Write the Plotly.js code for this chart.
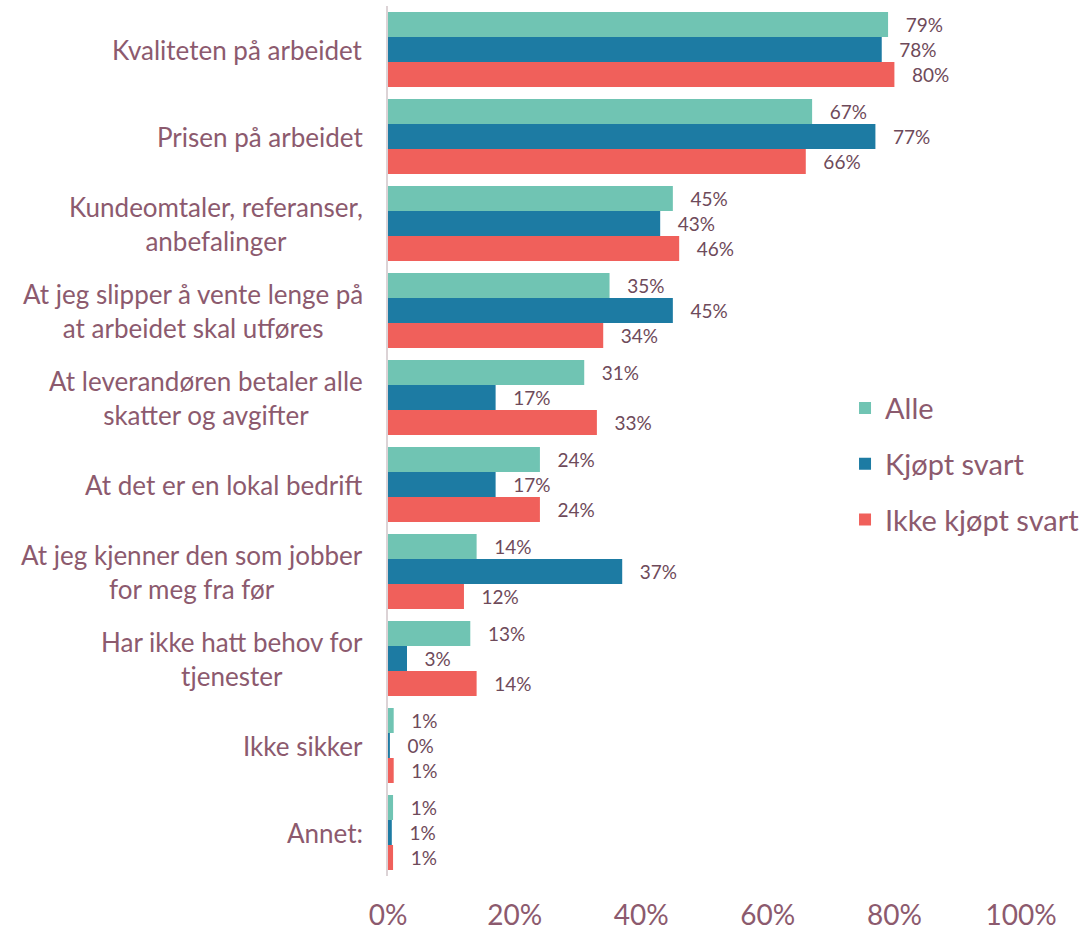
<!DOCTYPE html>
<html>
<head>
<meta charset="utf-8">
<script src="https://cdn.plot.ly/plotly-3.0.1.min.js"></script>
<style>
  html, body { margin: 0; padding: 0; background: #ffffff; }
  #chart { width: 1087px; height: 930px; }
</style>
</head>
<body>
<div id="chart"></div>
<script>
// Categories (top to bottom) and their display labels
const categories = [
  "Kvaliteten på arbeidet",
  "Prisen på arbeidet",
  "Kundeomtaler, referanser, anbefalinger",
  "At jeg slipper å vente lenge på at arbeidet skal utføres",
  "At leverandøren betaler alle skatter og avgifter",
  "At det er en lokal bedrift",
  "At jeg kjenner den som jobber for meg fra før",
  "Har ikke hatt behov for tjenester",
  "Ikke sikker",
  "Annet:"
];
const categoryLabels = [
  "Kvaliteten på arbeidet",
  "Prisen på arbeidet",
  "Kundeomtaler, referanser,<br>anbefalinger",
  "At jeg slipper å vente lenge på<br>at arbeidet skal utføres",
  "At leverandøren betaler alle<br>skatter og avgifter",
  "At det er en lokal bedrift",
  "At jeg kjenner den som jobber<br>for meg fra før",
  "Har ikke hatt behov for<br>tjenester",
  "Ikke sikker",
  "Annet:"
];

// Series values (percent)
const seriesNames = ["Alle", "Kjøpt svart", "Ikke kjøpt svart"];
const alle       = [79, 67, 45, 35, 31, 24, 14, 13, 0.9, 0.8];
const kjoptSvart = [78, 77, 43, 45, 17, 17, 37, 3, 0.3, 0.6];
const ikkeKjopt  = [80, 66, 46, 34, 33, 24, 12, 14, 0.9, 0.8];

// X tick values
const xTicks = [0, 20, 40, 60, 80, 100];

const colors = ["#70C4B3", "#1D7BA3", "#F0605B"];
const labelColor = "#8C5A6E";
const valueColor = "#6E4A5A";
const fontFamily = "Lato, 'Open Sans', sans-serif";

const seriesValues = [alle, kjoptSvart, ikkeKjopt];
const nb = "\u00a0\u00a0\u00a0";

const traces = seriesValues.map((vals, i) => ({
  type: "bar",
  orientation: "h",
  name: seriesNames[i],
  legendgroup: "g" + i,
  x: vals,
  y: categories,
  marker: { color: colors[i] },
  texttemplate: nb + "%{x:.0f}%",
  textposition: "outside",
  textfont: { family: fontFamily, size: 19, color: valueColor },
  constraintext: "none",
  cliponaxis: false,
  hoverinfo: "x+y+name"
}));

const annotations = categories.map((c, i) => ({
  xref: "paper",
  yref: "y",
  x: -0.036,
  y: c,
  xanchor: "right",
  yanchor: "middle",
  align: "center",
  text: categoryLabels[i],
  showarrow: false,
  font: { family: fontFamily, size: 26, color: labelColor }
}));

const layout = {
  width: 1087,
  height: 930,
  margin: { l: 388, r: 66, t: 6, b: 54, autoexpand: false },
  paper_bgcolor: "#ffffff",
  plot_bgcolor: "#ffffff",
  barmode: "group",
  bargap: 0.138,
  bargroupgap: 0,
  font: { family: fontFamily, color: labelColor },
  xaxis: {
    range: [0, 100],
    tickvals: xTicks,
    ticktext: xTicks.map(v => v + "%"),
    showgrid: false,
    zeroline: false,
    showline: false,
    ticks: "",
    ticklabelstandoff: 20,
    tickfont: { family: fontFamily, size: 28, color: labelColor },
    fixedrange: true
  },
  yaxis: {
    type: "category",
    autorange: "reversed",
    showticklabels: false,
    showgrid: false,
    zeroline: false,
    showline: true,
    linecolor: "#DCD3D6",
    linewidth: 2,
    ticks: "",
    fixedrange: true
  },
  showlegend: true,
  legend: {
    x: 0.722,
    xanchor: "left",
    y: 0.567,
    yanchor: "top",
    traceorder: "grouped",
    tracegroupgap: 15,
    font: { family: fontFamily, size: 29, color: labelColor },
    bgcolor: "rgba(0,0,0,0)"
  },
  annotations: annotations
};

Plotly.newPlot("chart", traces, layout, { displayModeBar: false, staticPlot: true });
</script>
</body>
</html>
